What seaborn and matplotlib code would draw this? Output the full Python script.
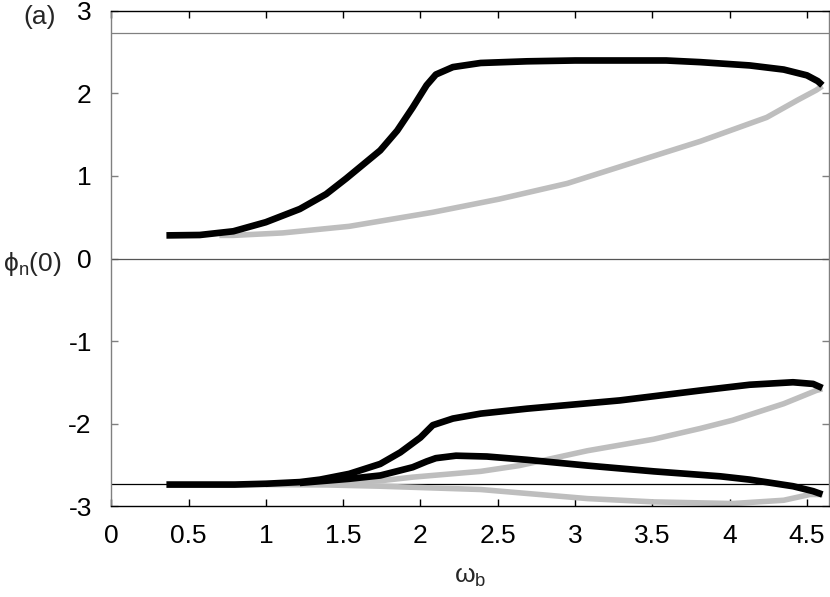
import numpy as np
import pandas as pd
import seaborn as sns
import matplotlib
matplotlib.use("Agg")
import matplotlib.pyplot as plt

# values
upper_black_x = [0.357, 0.573, 0.79, 1.00, 1.22, 1.39, 1.52, 1.74, 1.85, 1.95, 2.04, 2.10, 2.21, 2.39,
                 2.69, 3.00, 3.59, 3.81, 4.13, 4.35, 4.50, 4.57, 4.60]
upper_black_y = [0.28, 0.285, 0.33, 0.44, 0.60, 0.78, 0.97, 1.31, 1.55, 1.83, 2.10, 2.23, 2.32, 2.37,
                 2.39, 2.40, 2.40, 2.38, 2.34, 2.29, 2.22, 2.15, 2.10]

upper_gray_x = [4.60, 4.56, 4.44, 4.24, 3.81, 3.59, 2.95, 2.51, 2.08, 1.54, 1.11, 0.79, 0.70]
upper_gray_y = [2.09, 2.04, 1.92, 1.71, 1.42, 1.29, 0.91, 0.72, 0.56, 0.39, 0.31, 0.28, 0.28]

lower_black_outer_x = [0.357, 0.80, 1.00, 1.22, 1.35, 1.54, 1.74, 1.87, 2.00, 2.08, 2.21, 2.39, 2.69,
                       3.29, 3.81, 4.13, 4.41, 4.54, 4.60]
lower_black_outer_y = [-2.74, -2.74, -2.73, -2.71, -2.68, -2.61, -2.49, -2.35, -2.17, -2.02, -1.94, -1.88,
                       -1.82, -1.72, -1.60, -1.53, -1.50, -1.52, -1.57]

lower_black_inner_x = [1.22, 1.54, 1.74, 1.95, 2.04, 2.10, 2.23, 2.43, 2.69, 3.08, 3.51, 3.94, 4.13,
                       4.41, 4.54, 4.60]
lower_black_inner_y = [-2.72, -2.67, -2.63, -2.53, -2.46, -2.42, -2.39, -2.40, -2.44, -2.51, -2.58, -2.64,
                       -2.68, -2.76, -2.82, -2.86]

lower_gray_top_x = [4.60, 4.56, 4.35, 4.02, 3.81, 3.51, 3.08, 2.64, 2.39, 1.95, 1.76, 1.40]
lower_gray_top_y = [-1.58, -1.60, -1.76, -1.96, -2.06, -2.19, -2.33, -2.51, -2.58, -2.65, -2.69, -2.73]

lower_gray_bot_x = [4.60, 4.52, 4.35, 4.02, 3.51, 3.08, 2.64, 2.39, 1.74, 1.40, 1.00]
lower_gray_bot_y = [-2.86, -2.86, -2.93, -2.97, -2.95, -2.91, -2.84, -2.80, -2.76, -2.745, -2.74]

ref_levels = [2.735, 0.0, -2.735]
xticks = [0, 0.5, 1, 1.5, 2, 2.5, 3, 3.5, 4, 4.5]
xtick_labels = ["0", "0.5", "1", "1.5", "2", "2.5", "3", "3.5", "4", "4.5"]
yticks = [-3, -2, -1, 0, 1, 2, 3]
ytick_labels = ["-3", "-2", "-1", "0", "1", "2", "3"]

sns.set_theme(style="white")
plt.rcParams["font.family"] = ["Liberation Sans", "DejaVu Sans"]
plt.rcParams["mathtext.fontset"] = "custom"
plt.rcParams["mathtext.rm"] = "Liberation Sans"
plt.rcParams["mathtext.it"] = "Liberation Sans"

fig = plt.figure(figsize=(8.3, 5.97), dpi=100)
ax = fig.add_axes([0.134, 0.1524, 0.865, 0.8292])

# reference lines
ax.axhline(ref_levels[0], color="#808080", lw=0.9, zorder=1)
ax.axhline(ref_levels[1], color="#555555", lw=0.9, zorder=1)
ax.axhline(ref_levels[2], color="black", lw=0.9, zorder=1)

gray = "#bebebe"
for xs, ys in [(upper_gray_x, upper_gray_y), (lower_gray_top_x, lower_gray_top_y),
               (lower_gray_bot_x, lower_gray_bot_y)]:
    df = pd.DataFrame({"x": xs, "y": ys})
    sns.lineplot(data=df, x="x", y="y", sort=False, estimator=None, color=gray,
                 lw=4.0, ax=ax, zorder=2, solid_capstyle="butt", solid_joinstyle="round")

for xs, ys in [(upper_black_x, upper_black_y), (lower_black_outer_x, lower_black_outer_y),
               (lower_black_inner_x, lower_black_inner_y)]:
    df = pd.DataFrame({"x": xs, "y": ys})
    sns.lineplot(data=df, x="x", y="y", sort=False, estimator=None, color="black",
                 lw=4.8, ax=ax, zorder=3, solid_capstyle="butt", solid_joinstyle="round")

ax.set_xlim(0, 4.644)
ax.set_ylim(-3, 3)
ax.set_xticks(xticks)
ax.set_xticklabels(xtick_labels)
ax.set_yticks(yticks)
ax.set_yticklabels(ytick_labels)
ax.set_xlabel("")
ax.set_ylabel("")

for side in ["top", "bottom"]:
    ax.spines[side].set_color("black")
for side in ["left", "right"]:
    ax.spines[side].set_color("#808080")
for sp in ax.spines.values():
    sp.set_linewidth(1.0)

ax.tick_params(axis="x", direction="in", length=5, width=1, color="black",
               top=True, bottom=True, labelsize=19, pad=13, labelcolor="black")
ax.tick_params(axis="y", direction="in", length=5, width=1, color="#808080",
               left=True, right=True, labelsize=19, pad=14, labelcolor="black")

fig.text(40 / 830, 1 - 17 / 597, "(a)", fontsize=19, ha="center", va="center")
fig.text(32 / 830, 1 - 264 / 597, "ϕ$_{\\mathrm{n}}$(0)", fontsize=19, ha="center", va="center")
fig.text(470 / 830, 1 - 577 / 597, "ω$_{\\mathrm{b}}$", fontsize=19, ha="center", va="center")

fig.savefig("out.png", dpi=100)
